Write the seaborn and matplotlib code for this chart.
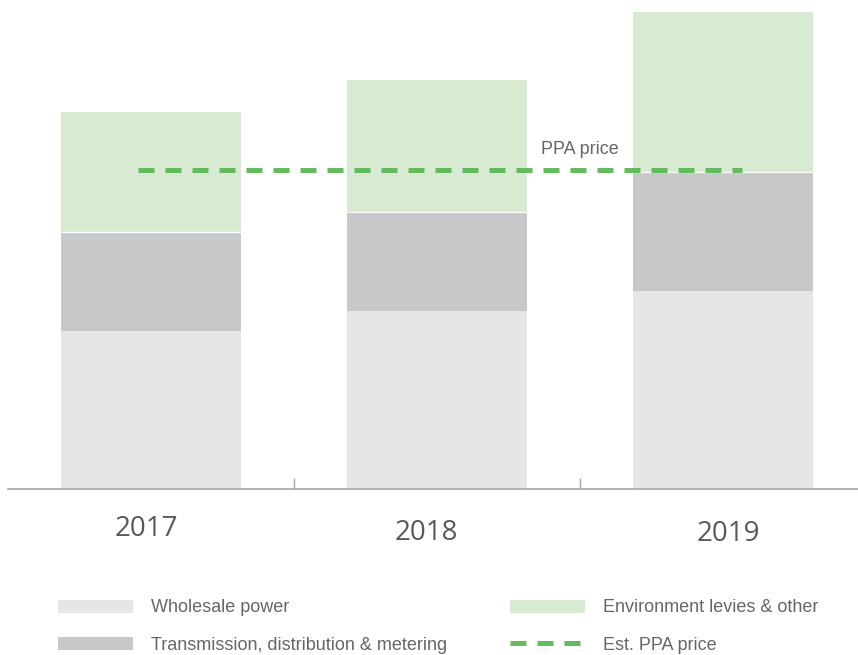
import matplotlib
matplotlib.use('Agg')
import numpy as np
import matplotlib.pyplot as plt
import seaborn as sns
from matplotlib.patches import Patch
from matplotlib.lines import Line2D

# data (units ~ pixel height of the original)
years = ['2017', '2018', '2019']
wholesale = [158, 178, 198]
transmission = [99, 99, 119]
environment = [120, 132, 160]
ppa_price = 319

series_labels = ['Wholesale power', 'Transmission, distribution & metering',
                 'Environment levies & other', 'Est. PPA price']

# colours
c_wholesale = '#e5e6e8'
c_trans = '#c7c8ca'
c_env = '#d8ead2'
c_ppa = '#64bb5d'
txt = '#666666'

sns.set_style('white')
plt.rcParams['font.family'] = ['Liberation Sans', 'DejaVu Sans']

lower = np.array(wholesale) + np.array(transmission)
total = lower + np.array(environment)

fig = plt.figure(figsize=(8.58, 6.55), dpi=100)
ax = fig.add_axes([8 / 858, 166 / 655, 850 / 858, 477 / 655])

# stacked bars: draw the tallest layer first, then cover it
sns.barplot(x=years, y=total, color=c_env, width=0.63, saturation=1,
            linewidth=0, errorbar=None, ax=ax)
sns.barplot(x=years, y=lower, color=c_trans, width=0.63, saturation=1,
            linewidth=0, errorbar=None, ax=ax)
sns.barplot(x=years, y=wholesale, color=c_wholesale, width=0.63, saturation=1,
            linewidth=0, errorbar=None, ax=ax)
# thin white seam between the grey and green layers
ax.hlines(lower, np.arange(3) - 0.315, np.arange(3) + 0.315, colors='white', linewidth=0.9)

# estimated PPA price line
ax.plot([-0.045, 2.066], [ppa_price, ppa_price], color=c_ppa, linewidth=3.6,
        linestyle=(0, (3.2, 2.2)), solid_capstyle='butt')
ax.annotate('PPA price', xy=(1.5, ppa_price), xytext=(0, 21), textcoords='offset pixels',
            ha='center', va='center', fontsize=13, color=txt)

ax.set_xlim(-0.5, 2.472)
ax.set_ylim(0, 477)
for s in ['top', 'left', 'right']:
    ax.spines[s].set_visible(False)
ax.spines['bottom'].set_color('#a6a6a6')
ax.spines['bottom'].set_linewidth(1.2)
ax.set_xticks([0.5, 1.5])
ax.set_xticklabels([])
ax.tick_params(axis='x', bottom=True, direction='in', length=8, width=1, color='#a6a6a6')
ax.set_yticks([])
ax.set_xlabel('')
ax.set_ylabel('')

# year labels sit slightly staggered below the axis
year_dx = [-5, -11, 5]
year_dy = [-40, -44, -45]
for i, yr in enumerate(years):
    ax.annotate(yr, xy=(i, 0), xytext=(year_dx[i], year_dy[i]), textcoords='offset pixels',
                ha='center', va='center', fontsize=20, color='#595959',
                family=['Open Sans', 'DejaVu Sans'])

# legend in two columns
leg_kw = dict(loc='center left', frameon=False, fontsize=13, handlelength=4.15,
              handleheight=0.72, handletextpad=1.0, labelspacing=1.12,
              borderpad=0, borderaxespad=0, labelcolor=txt)
h1 = [Patch(facecolor=c_wholesale, edgecolor='none'),
      Patch(facecolor=c_trans, edgecolor='none')]
h2 = [Patch(facecolor=c_env, edgecolor='none'),
      Line2D([0], [0], color=c_ppa, linewidth=3.6, linestyle=(0, (3.2, 2.2)))]
fig.legend(handles=h1, labels=series_labels[:2],
           bbox_to_anchor=(58 / 858, 1 - 626.5 / 655), **leg_kw)
fig.legend(handles=h2, labels=series_labels[2:],
           bbox_to_anchor=(510 / 858, 1 - 626.5 / 655), **leg_kw)

fig.savefig('out.png', dpi=100)
